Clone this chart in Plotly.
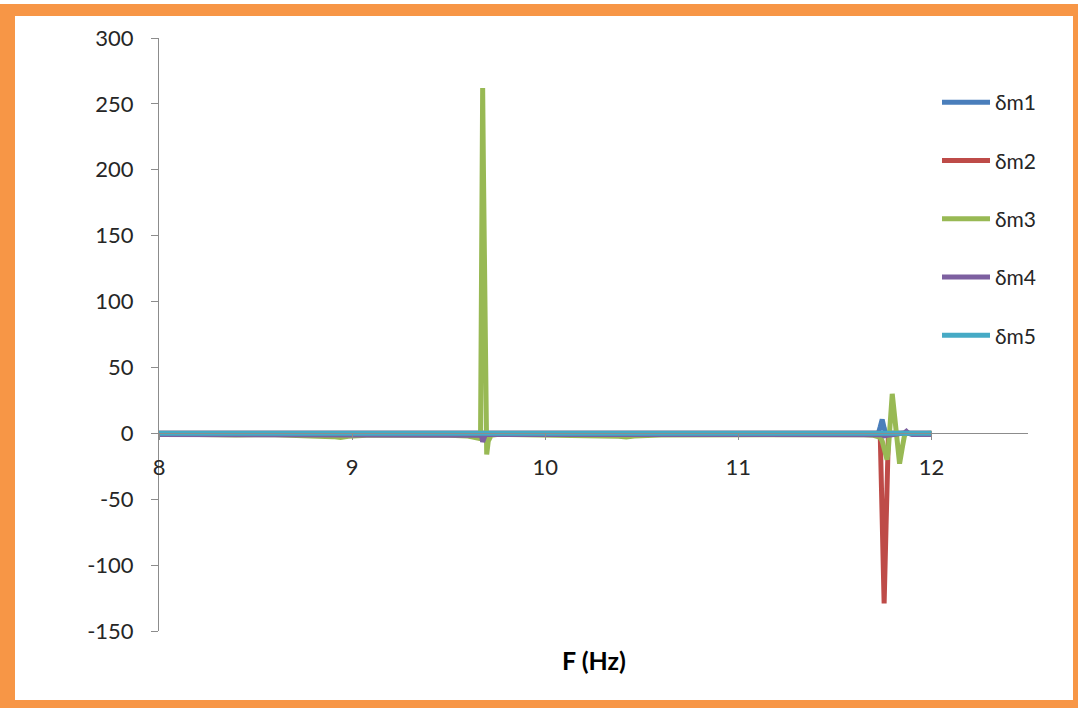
import plotly.graph_objects as go

# Frequency sweep (Hz)
freq = [8.00, 8.20, 8.40, 8.60, 8.80, 8.90, 8.94, 8.98, 9.10, 9.30,
        9.50, 9.60, 9.64, 9.660, 9.665, 9.670, 9.676, 9.680, 9.686, 9.690,
        9.697, 9.705, 9.720, 9.760, 9.900, 10.10, 10.30, 10.38, 10.42, 10.46,
        10.60, 10.80, 11.00, 11.20, 11.40, 11.55, 11.65, 11.70, 11.725, 11.735,
        11.745, 11.755, 11.765, 11.770, 11.777, 11.785, 11.797, 11.810, 11.820, 11.835,
        11.850, 11.860, 11.870, 11.880, 11.900, 11.950, 12.00]

dm1 = [0, 0, 0, 0, 0, 0, 0, 0, 0, 0,
       0, 0, 0, 0, 0, 0, 0, 0, 0, 0,
       0, 0, 0, 0, 0, 0, 0, 0, 0, 0,
       0, 0, 0, 0, 0, 0, 0, 0, 0, 5,
       10.5, 4, -1, 0, 0, 0, 0, 0, 0, 0,
       0, 0, 0, 0, 0, 0, 0]

dm2 = [0, 0, 0, 0, 0, 0, 0, 0, 0, 0,
       0, 0, 0, 0, 0, 0, 0, 0, 0, 0,
       0, 0, 0, 0, 0, 0, 0, 0, 0, 0,
       0, 0, 0, 0, 0, 0, 0, 0, 0, -2,
       -64, -129, -70, -41, -2, 0, 0, 0, 0, 0,
       0, 0, 0, 0, 0, 0, 0]

dm3 = [-0.5, -1.0, -1.2, -1.0, -1.5, -2.5, -3.2, -2.2, -1.2, -1.0,
       -1.4, -2.0, -3.0, -3.8, -4.0, 117, 262, 200, 110, 45,
       -16, -6, -1.5, -0.8, -1.0, -1.2, -1.5, -2.2, -2.8, -2.0,
       -1.2, -1.0, -1.0, -1.1, -1.2, -1.0, -1.0, -1.5, -2.0, -3.0,
       -6, -12, -18, -20, -12, 8, 30, 12, -6, -23,
       -10, -2, 0.5, 0, -0.5, -0.3, 0]

dm4 = [-0.8, -0.8, -0.8, -0.8, -0.8, -0.8, -0.8, -0.8, -0.8, -0.8,
       -0.8, -0.8, -0.8, -0.8, -1.0, -1.5, -6.5, -5.0, -1.5, -0.8,
       -0.8, -0.8, -0.8, -0.8, -0.8, -0.8, -0.8, -0.8, -0.8, -0.8,
       -0.8, -0.8, -0.8, -0.8, -0.8, -0.8, -0.8, -0.8, -0.8, -0.8,
       -1.0, -2.0, -2.0, -1.8, -1.5, -1.2, -1.0, -0.8, -0.8, -0.8,
       -0.5, 0.3, 1.5, 0, -0.8, -0.8, -0.8]

dm5 = [0] * len(freq)

# Axis ticks and their labels (plain hyphen for negatives)
x_ticks = [8, 9, 10, 11, 12]
x_tick_text = ["8", "9", "10", "11", "12"]
y_ticks = [-150, -100, -50, 0, 50, 100, 150, 200, 250, 300]
y_tick_text = ["-150", "-100", "-50", "0", "50", "100", "150", "200", "250", "300"]

series = [
    ("δm1", dm1, "#4A7EBB"),
    ("δm2", dm2, "#BE4B48"),
    ("δm3", dm3, "#98B954"),
    ("δm4", dm4, "#7D60A0"),
    ("δm5", dm5, "#46AAC5"),
]

W, H = 1078, 708
ML, MR, MT, MB = 159, 50, 38, 77
PW, PH = W - ML - MR, H - MT - MB


def px_x(px):
    return (px - ML) / PW


def px_y(py):
    return (H - MB - py) / PH


fig = go.Figure()
for name, vals, color in series:
    fig.add_trace(go.Scatter(
        x=freq, y=vals, name=name, mode="lines",
        legendgroup=name,
        line=dict(color=color, width=5),
    ))

axis_font = dict(family="Lato, 'Open Sans', sans-serif", size=22, color="#262626")

fig.update_layout(
    width=W, height=H,
    margin=dict(l=ML, r=MR, t=MT, b=MB),
    paper_bgcolor="white",
    plot_bgcolor="white",
    showlegend=True,
    legend=dict(
        x=px_x(937), y=px_y(82), xanchor="left", yanchor="top",
        font=dict(family="Lato, 'Open Sans', sans-serif", size=21, color="#262626"),
        tracegroupgap=28,
        itemwidth=48,
        bgcolor="rgba(0,0,0,0)",
    ),
    xaxis=dict(
        range=[8, 12.5], tickvals=x_ticks, ticktext=x_tick_text,
        showgrid=False, zeroline=False,
        showline=True, linecolor="#8C8C8C", linewidth=1,
        ticks="outside", ticklen=6, tickcolor="#8C8C8C",
        anchor="free", position=px_y(433),
        tickfont=axis_font, ticklabelstandoff=9,
    ),
    yaxis=dict(
        range=[-150, 300], tickvals=y_ticks, ticktext=y_tick_text,
        showgrid=False, zeroline=False,
        showline=True, linecolor="#8C8C8C", linewidth=1,
        ticks="outside", ticklen=7, tickcolor="#8C8C8C",
        tickfont=axis_font, ticklabelstandoff=13,
    ),
    annotations=[dict(
        text="<b>F (Hz)</b>", x=0.5, y=px_y(660), xref="paper", yref="paper",
        xanchor="center", yanchor="middle", showarrow=False,
        font=dict(family="Lato, 'Open Sans', sans-serif", size=25, color="#000000"),
    )],
)

# Orange frame around the chart
orange = "#F79646"
frame = [(0, 4, 15, 708), (0, 4, 1078, 16), (1073, 4, 1078, 708), (0, 700, 1078, 708)]
for x0, y0, x1, y1 in frame:
    fig.add_shape(type="rect", xref="paper", yref="paper",
                  x0=px_x(x0), x1=px_x(x1), y0=px_y(y1), y1=px_y(y0),
                  fillcolor=orange, line=dict(width=0), layer="above")

fig.write_html("out.html")
